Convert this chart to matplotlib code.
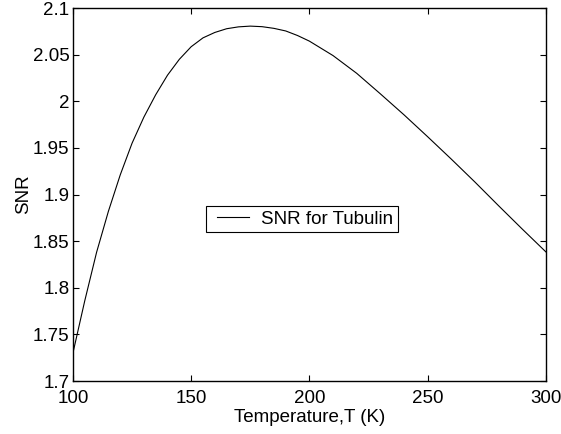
import matplotlib
matplotlib.use("Agg")
import matplotlib.pyplot as plt
from matplotlib.legend_handler import HandlerLine2D

plt.rcParams['font.family'] = ['Liberation Sans', 'DejaVu Sans']

temperature = [100, 105, 110, 115, 120, 125, 130, 135, 140, 145, 150, 155, 160,
               165, 170, 175, 180, 185, 190, 195, 200, 210, 220, 230, 240, 250,
               260, 270, 280, 290, 300]
snr = [1.730, 1.786, 1.838, 1.882, 1.921, 1.955, 1.983, 2.007, 2.028, 2.045,
       2.0585, 2.068, 2.0738, 2.0778, 2.0798, 2.0806, 2.0800, 2.0782, 2.0754,
       2.0705, 2.0645, 2.049, 2.030, 2.008, 1.9855, 1.962, 1.938, 1.9134,
       1.888, 1.863, 1.8385]

xticks = [100, 150, 200, 250, 300]
yticks = [1.7, 1.75, 1.8, 1.85, 1.9, 1.95, 2.0, 2.05, 2.1]
yticklabels = ['1.7', '1.75', '1.8', '1.85', '1.9', '1.95', '2', '2.05', '2.1']

fig = plt.figure(figsize=(5.61, 4.34), dpi=100)
ax = fig.add_axes([0.130, 0.1221, 0.843, 0.8594])
line, = ax.plot(temperature, snr, color='black', linewidth=0.8,
                label='SNR for Tubulin')
ax.set_xlim(100, 300)
ax.set_ylim(1.7, 2.1)
ax.set_xticks(xticks)
ax.set_xticklabels([str(t) for t in xticks])
ax.set_yticks(yticks)
ax.set_yticklabels(yticklabels)
ax.tick_params(direction='in', length=4, width=0.8, top=True, right=True,
               labelsize=13.5)
ax.tick_params(axis='x', pad=6.5)
ax.tick_params(axis='y', pad=2.5)
for s in ax.spines.values():
    s.set_linewidth(1.0)
ax.set_xlabel('Temperature,T (K)', fontsize=13.5, labelpad=1.5)
ax.set_ylabel('SNR', fontsize=13.5, labelpad=0.5)
leg = ax.legend(loc='center', bbox_to_anchor=(0.484, 0.434), fontsize=13.5,
                fancybox=False, edgecolor='black', framealpha=1,
                handlelength=2.04, borderpad=0.25, handletextpad=0.64,
                handler_map={line: HandlerLine2D(xpad=0.336)})
leg.get_frame().set_linewidth(0.8)
fig.savefig('out.png', dpi=100)
